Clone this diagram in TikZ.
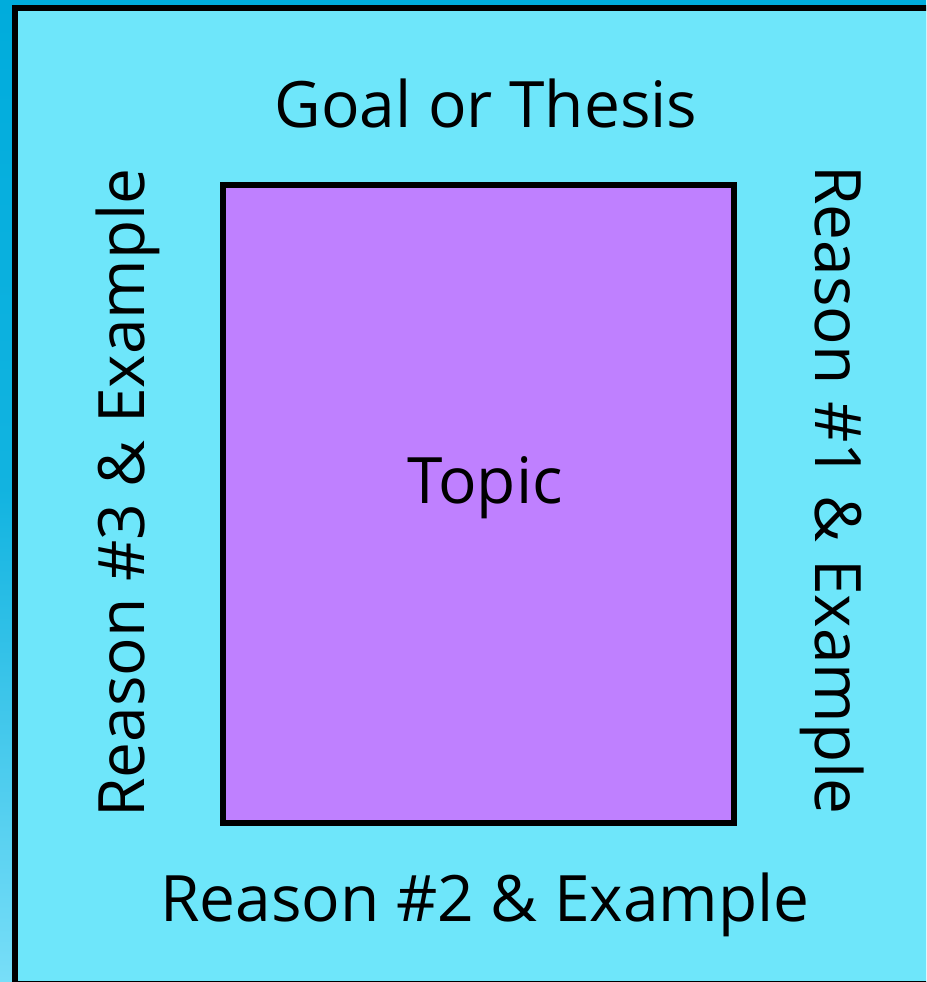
\documentclass[tikz,border=0pt]{standalone}
\usepackage{fontspec}
\setmainfont{Open Sans}
\definecolor{bgblue}{RGB}{0,172,220}
\definecolor{bglight}{RGB}{120,222,248}
\definecolor{panelcyan}{RGB}{110,230,250}
\definecolor{topicpurple}{RGB}{191,128,255}
\tikzset{
  lbl/.style={font=\fontsize{64}{66}\selectfont, text=black, inner sep=0pt, anchor=center},
  frame/.style={draw=black, line width=6pt},
}
\begin{document}
\begin{tikzpicture}[x=1pt,y=-1pt]
\useasboundingbox (0,0) rectangle (926,982);
\clip (0,0) rectangle (926,982);
\shade[top color=bgblue, bottom color=bglight, middle color=bgblue!85!bglight] (0,0) rectangle (926,982);
\filldraw[frame, fill=panelcyan] (14.5,8) rectangle (1000,984);
\node[frame, fill=topicpurple, minimum width=511pt, minimum height=638pt, inner sep=0pt] (topic) at (478.5,504) {};
\node[lbl] (goal) at (486,103) {Goal or Thesis};
\node[lbl] (r2) at (485,905) {Reason \#2 \& Example};
\node[lbl, rotate=90] (r3) at (128,493) {Reason \#3 \& Example};
\node[lbl, rotate=-90] (r1) at (832,490) {Reason \#1 \& Example};
\node[lbl] (t) at (485,488) {Topic};
\end{tikzpicture}
\end{document}
